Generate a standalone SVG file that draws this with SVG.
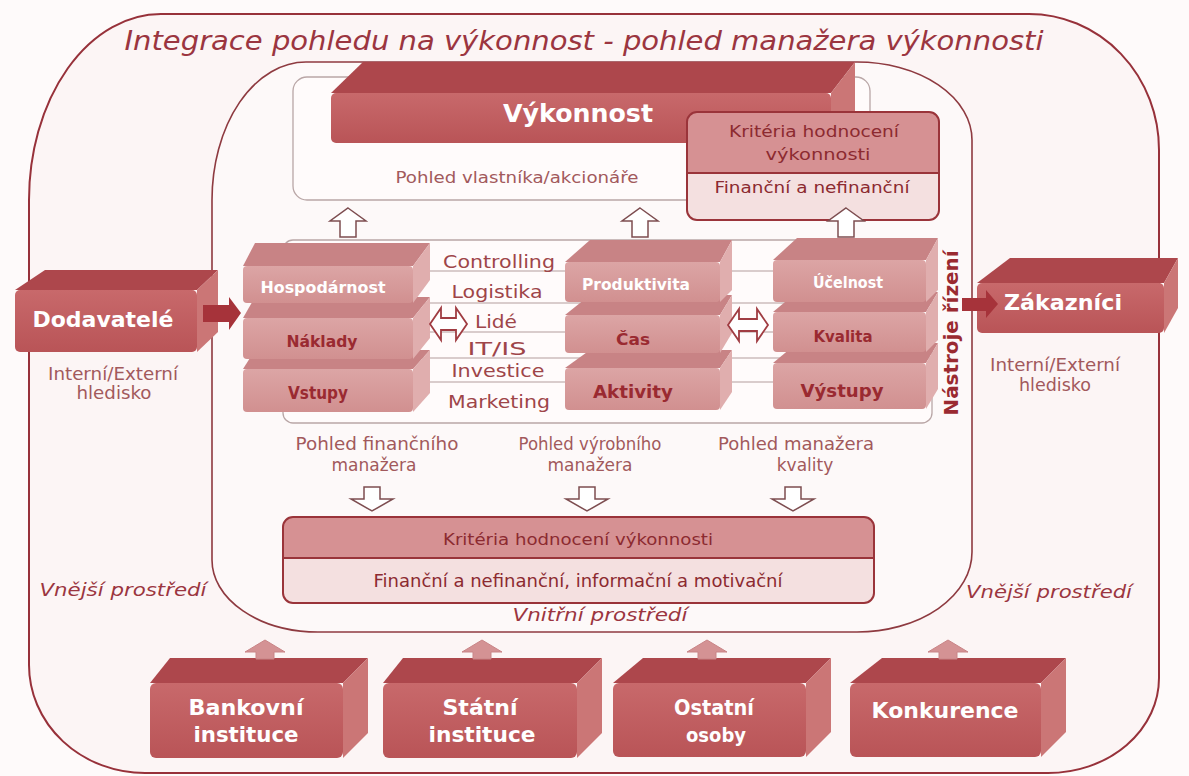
<svg xmlns="http://www.w3.org/2000/svg" width="1189" height="776" viewBox="0 0 1189 776">
<defs>
<linearGradient id="gBig" x1="0" y1="0" x2="0" y2="1"><stop offset="0" stop-color="#c8696b"/><stop offset="1" stop-color="#b95457"/></linearGradient>
<linearGradient id="gMid" x1="0" y1="0" x2="0" y2="1"><stop offset="0" stop-color="#dca5a5"/><stop offset="1" stop-color="#d19090"/></linearGradient>
</defs>
<style>
text{font-family:"DejaVu Sans","Liberation Sans",sans-serif}
.frame{fill:#fcf5f5;stroke:#97313a;stroke-width:2}
.inner{fill:#fdf9f9;stroke:#8e3a40;stroke-width:1.6}
.gbox{fill:#fffbfb;stroke:#b9a6a6;stroke-width:1.3}
.bf{fill:url(#gBig)}.bt{fill:#ad474c}.br{fill:#cb7676}
.mf{fill:url(#gMid)}.mt{fill:#c88385}.mr{fill:#e0aeae}
.wb{fill:#ffffff;font-weight:bold;text-anchor:middle}
.db{fill:#9a2a31;font-weight:bold;text-anchor:middle}
.lab{fill:#a2595c;text-anchor:middle}
.tool{fill:#9e4549;text-anchor:middle;font-size:18px}
.kr{fill:#8c2a30;text-anchor:middle}
.it{fill:#9b3540;font-style:italic;text-anchor:middle}
.kup{fill:#d69193}.klo{fill:#f4e0e0}.kst{fill:none;stroke:#9a343a;stroke-width:2}
.hl{stroke:#cdbcbc;stroke-width:1.3}
.wa{fill:#ffffff;stroke:#7d4d50;stroke-width:1.5;stroke-linejoin:miter}
.da{fill:#ffffff;stroke:#a03c42;stroke-width:1.8}
.ra{fill:#a6333a}
.pa{fill:#d49294;stroke:#c98587;stroke-width:1}
</style>
<rect width="1189" height="776" fill="#fefafa"/>
<g id="outer-frame">
<path class="frame" d="M 161 14 H 1029 A 130 136 0 0 1 1159 150 V 678 A 111 95 0 0 1 1048 773 H 145 A 116 108 0 0 1 29 665 V 200 A 132 186 0 0 1 161 14 Z"/>
<text class="it" x="584" y="50" font-size="26" textLength="919" lengthAdjust="spacingAndGlyphs">Integrace pohledu na výkonnost - pohled manažera výkonnosti</text>
<text class="it" x="123" y="596" font-size="18" textLength="167" lengthAdjust="spacingAndGlyphs">Vnější prostředí</text>
<text class="it" x="1049" y="598" font-size="18" textLength="166" lengthAdjust="spacingAndGlyphs">Vnější prostředí</text>
</g>
<g id="inner-frame">
<path class="inner" d="M 306 62 H 857 A 115 78 0 0 1 972 140 V 552 A 115 80 0 0 1 857 632 H 318 A 106 72 0 0 1 212 560 V 200 A 94 138 0 0 1 306 62 Z"/>
<text class="it" x="600" y="621" font-size="18" textLength="175" lengthAdjust="spacingAndGlyphs">Vnitřní prostředí</text>
</g>
<g id="owner-view">
<rect class="gbox" x="293" y="77" width="577" height="123" rx="14"/>
<text class="lab" x="517" y="183" font-size="16" textLength="243" lengthAdjust="spacingAndGlyphs">Pohled vlastníka/akcionáře</text>
</g>
<g id="vykonnost">
<polygon class="bt" points="331,93 363,62 855,62 831,93"/>
<polygon class="br" points="831,93 855,62 855,112 831,143"/>
<rect class="bf" x="331" y="93" width="500" height="50" rx="5"/>
<text class="wb" x="578" y="122" font-size="25" textLength="150" lengthAdjust="spacingAndGlyphs">Výkonnost</text>
</g>
<g id="kriteria-top">
<rect class="klo" x="687" y="112" width="252" height="108" rx="10"/>
<path class="kup" d="M 687 173 V 122 Q 687 112 697 112 H 929 Q 939 112 939 122 V 173 Z"/>
<line x1="687" y1="173" x2="939" y2="173" stroke="#9a343a" stroke-width="2"/>
<rect class="kst" x="687" y="112" width="252" height="108" rx="10"/>
<text class="kr" x="814" y="137" font-size="16" textLength="170" lengthAdjust="spacingAndGlyphs">Kritéria hodnocení</text>
<text class="kr" x="818" y="160" font-size="16" textLength="105" lengthAdjust="spacingAndGlyphs">výkonnosti</text>
<text class="kr" x="812" y="193" font-size="16" textLength="195" lengthAdjust="spacingAndGlyphs">Finanční a nefinanční</text>
</g>
<g id="nastroje-rizeni">
<rect class="gbox" x="283" y="240" width="649" height="183" rx="10"/>
<line class="hl" x1="284" y1="271" x2="931" y2="271"/>
<line class="hl" x1="284" y1="303" x2="931" y2="303"/>
<line class="hl" x1="284" y1="332" x2="931" y2="332"/>
<line class="hl" x1="284" y1="358" x2="931" y2="358"/>
<line class="hl" x1="284" y1="382" x2="931" y2="382"/>
<text class="tool" x="499" y="268" textLength="112" lengthAdjust="spacingAndGlyphs">Controlling</text>
<text class="tool" x="497" y="298" textLength="91" lengthAdjust="spacingAndGlyphs">Logistika</text>
<text class="tool" x="496" y="328" textLength="42" lengthAdjust="spacingAndGlyphs">Lidé</text>
<text class="tool" x="497" y="355" textLength="59" lengthAdjust="spacingAndGlyphs">IT/IS</text>
<text class="tool" x="498" y="377" textLength="93" lengthAdjust="spacingAndGlyphs">Investice</text>
<text class="tool" x="499" y="408" textLength="102" lengthAdjust="spacingAndGlyphs">Marketing</text>
<text class="db" transform="translate(958 333) rotate(-90)" font-size="20" textLength="165" lengthAdjust="spacingAndGlyphs">Nástroje řízení</text>
</g>
<g id="vstupy">
<polygon class="mt" points="243,369 255,350 430,350 413,369"/>
<polygon class="mr" points="413,369 430,350 430,393 413,412"/>
<rect class="mf" x="243" y="369" width="170" height="43" rx="4"/>
<text class="db" x="318" y="399" font-size="17" textLength="60" lengthAdjust="spacingAndGlyphs">Vstupy</text>
</g>
<g id="naklady">
<polygon class="mt" points="243,318 255,297 430,297 413,318"/>
<polygon class="mr" points="413,318 430,297 430,338 413,359"/>
<rect class="mf" x="243" y="318" width="170" height="41" rx="4"/>
<text class="db" x="322" y="347" font-size="16" textLength="71" lengthAdjust="spacingAndGlyphs">Náklady</text>
</g>
<g id="hospodarnost">
<polygon class="mt" points="243,266 255,243 430,243 413,266"/>
<polygon class="mr" points="413,266 430,243 430,280 413,303"/>
<rect class="mf" x="243" y="266" width="170" height="37" rx="4"/>
<text class="wb" x="323" y="293" font-size="15" textLength="125" lengthAdjust="spacingAndGlyphs">Hospodárnost</text>
</g>
<g id="aktivity">
<polygon class="mt" points="565,368 590,350 732,350 720,368"/>
<polygon class="mr" points="720,368 732,350 732,392 720,410"/>
<rect class="mf" x="565" y="368" width="155" height="42" rx="4"/>
<text class="db" x="633" y="398" font-size="17" textLength="80" lengthAdjust="spacingAndGlyphs">Aktivity</text>
</g>
<g id="cas">
<polygon class="mt" points="565,315 590,295 732,295 720,315"/>
<polygon class="mr" points="720,315 732,295 732,333 720,353"/>
<rect class="mf" x="565" y="315" width="155" height="38" rx="4"/>
<text class="db" x="633" y="345" font-size="16" textLength="34" lengthAdjust="spacingAndGlyphs">Čas</text>
</g>
<g id="produktivita">
<polygon class="mt" points="565,262 590,240 732,240 720,262"/>
<polygon class="mr" points="720,262 732,240 732,290 720,302"/>
<rect class="mf" x="565" y="262" width="155" height="40" rx="4"/>
<text class="wb" x="636" y="290" font-size="15" textLength="108" lengthAdjust="spacingAndGlyphs">Produktivita</text>
</g>
<g id="vystupy">
<polygon class="mt" points="773,363 797,343 938,343 926,363"/>
<polygon class="mr" points="926,363 938,343 938,389 926,409"/>
<rect class="mf" x="773" y="363" width="153" height="46" rx="4"/>
<text class="db" x="842" y="397" font-size="17" textLength="83" lengthAdjust="spacingAndGlyphs">Výstupy</text>
</g>
<g id="kvalita">
<polygon class="mt" points="773,312 797,292 938,292 926,312"/>
<polygon class="mr" points="926,312 938,292 938,340 926,352"/>
<rect class="mf" x="773" y="312" width="153" height="40" rx="4"/>
<text class="db" x="843" y="342" font-size="16" textLength="59" lengthAdjust="spacingAndGlyphs">Kvalita</text>
</g>
<g id="ucelnost">
<polygon class="mt" points="773,260 797,238 938,238 926,260"/>
<polygon class="mr" points="926,260 938,238 938,290 926,302"/>
<rect class="mf" x="773" y="260" width="153" height="42" rx="4"/>
<text class="wb" x="848" y="288" font-size="15" textLength="70" lengthAdjust="spacingAndGlyphs">Účelnost</text>
</g>
<g id="dodavatele">
<polygon class="bt" points="15,290 45,270 218,270 197,290"/>
<polygon class="br" points="197,290 218,270 218,332 197,352"/>
<rect class="bf" x="15" y="290" width="182" height="62" rx="5"/>
<text class="wb" x="103" y="327" font-size="21" textLength="141" lengthAdjust="spacingAndGlyphs">Dodavatelé</text>
<text class="lab" x="113" y="380" font-size="17" textLength="130" lengthAdjust="spacingAndGlyphs">Interní/Externí</text>
<text class="lab" x="114" y="399" font-size="17" textLength="75" lengthAdjust="spacingAndGlyphs">hledisko</text>
</g>
<g id="zakaznici">
<polygon class="bt" points="977,283 1010,258 1178,258 1164,283"/>
<polygon class="br" points="1164,283 1178,258 1178,308 1164,333"/>
<rect class="bf" x="977" y="283" width="187" height="50" rx="5"/>
<text class="wb" x="1063" y="310" font-size="21" textLength="118" lengthAdjust="spacingAndGlyphs">Zákazníci</text>
<text class="lab" x="1055" y="371" font-size="17" textLength="130" lengthAdjust="spacingAndGlyphs">Interní/Externí</text>
<text class="lab" x="1055" y="391" font-size="17" textLength="72" lengthAdjust="spacingAndGlyphs">hledisko</text>
</g>
<g id="pohledy">
<text class="lab" x="377" y="450" font-size="17" textLength="163" lengthAdjust="spacingAndGlyphs">Pohled finančního</text>
<text class="lab" x="374" y="471" font-size="17">manažera</text>
<text class="lab" x="590" y="450" font-size="17" textLength="143" lengthAdjust="spacingAndGlyphs">Pohled výrobního</text>
<text class="lab" x="590" y="471" font-size="17">manažera</text>
<text class="lab" x="796" y="450" font-size="17" textLength="156" lengthAdjust="spacingAndGlyphs">Pohled manažera</text>
<text class="lab" x="805" y="471" font-size="17">kvality</text>
</g>
<g id="kriteria-bottom">
<rect class="klo" x="283" y="517" width="591" height="86" rx="10"/>
<path class="kup" d="M 283 558 V 527 Q 283 517 293 517 H 864 Q 874 517 874 527 V 558 Z"/>
<line x1="283" y1="558" x2="874" y2="558" stroke="#9a343a" stroke-width="2"/>
<rect class="kst" x="283" y="517" width="591" height="86" rx="10"/>
<text class="kr" x="578" y="545" font-size="16" textLength="270" lengthAdjust="spacingAndGlyphs">Kritéria hodnocení výkonnosti</text>
<text class="kr" x="578" y="587" font-size="17" textLength="409" lengthAdjust="spacingAndGlyphs">Finanční a nefinanční, informační a motivační</text>
</g>
<g id="bankovni">
<polygon class="bt" points="150,683 170,658 368,658 343,683"/>
<polygon class="br" points="343,683 368,658 368,733 343,758"/>
<rect class="bf" x="150" y="683" width="193" height="75" rx="6"/>
<text class="wb" x="246" y="715" font-size="21" textLength="115" lengthAdjust="spacingAndGlyphs">Bankovní</text>
<text class="wb" x="246" y="742" font-size="21" textLength="105" lengthAdjust="spacingAndGlyphs">instituce</text>
</g>
<g id="statni">
<polygon class="bt" points="383,683 403,658 602,658 577,683"/>
<polygon class="br" points="577,683 602,658 602,733 577,758"/>
<rect class="bf" x="383" y="683" width="194" height="75" rx="6"/>
<text class="wb" x="480" y="715" font-size="21" textLength="75" lengthAdjust="spacingAndGlyphs">Státní</text>
<text class="wb" x="482" y="742" font-size="21" textLength="107" lengthAdjust="spacingAndGlyphs">instituce</text>
</g>
<g id="ostatni">
<polygon class="bt" points="613,683 643,658 831,658 806,683"/>
<polygon class="br" points="806,683 831,658 831,732 806,757"/>
<rect class="bf" x="613" y="683" width="193" height="74" rx="6"/>
<text class="wb" x="714" y="715" font-size="21" textLength="80" lengthAdjust="spacingAndGlyphs">Ostatní</text>
<text class="wb" x="716" y="742" font-size="20" textLength="60" lengthAdjust="spacingAndGlyphs">osoby</text>
</g>
<g id="konkurence">
<polygon class="bt" points="850,683 882,658 1066,658 1041,683"/>
<polygon class="br" points="1041,683 1066,658 1066,732 1041,757"/>
<rect class="bf" x="850" y="683" width="191" height="74" rx="6"/>
<text class="wb" x="945" y="718" font-size="21" textLength="147" lengthAdjust="spacingAndGlyphs">Konkurence</text>
</g>
<g id="connectors">
<polygon class="wa" points="348,208 366,221 356,221 356,237 340,237 340,221 330,221"/>
<polygon class="wa" points="640,208 658,221 648,221 648,237 632,237 632,221 622,221"/>
<polygon class="wa" points="846,208 864,221 854,221 854,237 838,237 838,221 828,221"/>
<polygon class="wa" points="364,487 380,487 380,499 393,499 372,511 351,499 364,499"/>
<polygon class="wa" points="579,487 595,487 595,499 608,499 587,511 566,499 579,499"/>
<polygon class="wa" points="785,487 801,487 801,499 814,499 793,511 772,499 785,499"/>
<polygon class="da" points="430,324 441,308 441,318 456,318 456,308 467,324 456,340 456,330 441,330 441,340"/>
<polygon class="da" points="728,325 739,309 739,319 757,319 757,309 768,325 757,341 757,331 739,331 739,341"/>
<polygon class="ra" points="203,305 229,305 229,297 241,313 229,330 229,322 203,322"/>
<polygon class="ra" points="962,298 986,298 986,290 998,304 986,318 986,311 962,311"/>
<polygon class="pa" points="265,640 285,652 274,652 274,659 256,659 256,652 245,652"/>
<polygon class="pa" points="482,640 502,652 491,652 491,659 473,659 473,652 462,652"/>
<polygon class="pa" points="707,640 727,652 716,652 716,659 698,659 698,652 687,652"/>
<polygon class="pa" points="948,640 968,652 957,652 957,659 939,659 939,652 928,652"/>
</g>
</svg>
